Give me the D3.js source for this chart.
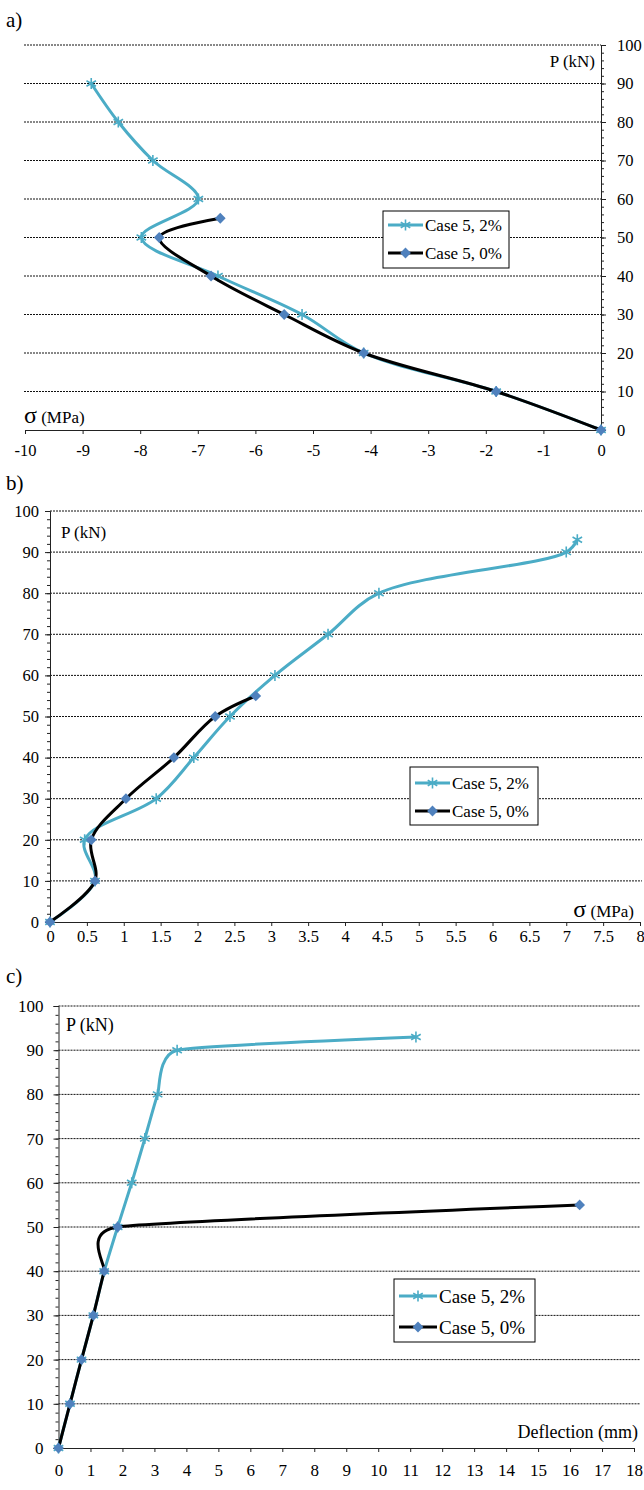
<!DOCTYPE html>
<html>
<head>
<meta charset="utf-8">
<script src="https://cdn.jsdelivr.net/npm/d3@7"></script>
<style>
  body { margin: 0; background: #fff; }
  svg text { font-family: "Liberation Serif", "Times New Roman", Times, "DejaVu Serif", serif; fill: #000; }
</style>
</head>
<body>
<div id="chart"></div>
<script>
// Series names (legend)
const seriesNames = ["Case 5, 2%", "Case 5, 0%"];

// a) stress vs load
const aLoad2 = [0, 10, 20, 30, 40, 50, 60, 70, 80, 90];
const aStress2 = [0, -1.82, -4.12, -5.19, -6.65, -7.98, -6.99, -7.78, -8.38, -8.85];
const aLoad0 = [0, 10, 20, 30, 40, 50, 55];
const aStress0 = [0, -1.82, -4.12, -5.5, -6.77, -7.67, -6.61];

// b) stress vs load
const bLoad2 = [0, 10, 20, 30, 40, 50, 60, 70, 80, 90, 93];
const bStress2 = [0, 0.61, 0.47, 1.44, 1.95, 2.44, 3.05, 3.77, 4.46, 7.0, 7.15];
const bLoad0 = [0, 10, 20, 30, 40, 50, 55];
const bStress0 = [0, 0.61, 0.56, 1.03, 1.68, 2.24, 2.79];

// c) deflection vs load
const cLoad2 = [0, 10, 20, 30, 40, 50, 60, 70, 80, 90, 93];
const cDefl2 = [0, 0.36, 0.72, 1.09, 1.43, 1.85, 2.29, 2.7, 3.1, 3.71, 11.18];
const cLoad0 = [0, 10, 20, 30, 40, 50, 55];
const cDefl0 = [0, 0.36, 0.72, 1.09, 1.43, 1.85, 16.3];

// tick labels
const loadTicks = [0, 10, 20, 30, 40, 50, 60, 70, 80, 90, 100];
const aXTicks = [-10, -9, -8, -7, -6, -5, -4, -3, -2, -1, 0];
const bXTicks = [0, 0.5, 1, 1.5, 2, 2.5, 3, 3.5, 4, 4.5, 5, 5.5, 6, 6.5, 7, 7.5, 8];
const cXTicks = [0, 1, 2, 3, 4, 5, 6, 7, 8, 9, 10, 11, 12, 13, 14, 15, 16, 17, 18];
const loadMinor = d3.range(0, 101, 2);

const cyan = "#4bacc6", blue = "#4f81bd";
const serif = '"Liberation Serif", "Times New Roman", Times, "DejaVu Serif", serif';

const svg = d3.select("#chart").append("svg")
    .attr("width", 644)
    .attr("height", 1490)
    .style("background", "#fff");

const zip = (xs, ys) => xs.map((v, i) => ({x: v, y: ys[i]}));

const asterisk = d3.symbol(d3.symbolAsterisk, 85);
const diamond = d3.symbol(d3.symbolSquare, 58);

function drawPanel(p) {
    const g = svg.append("g").attr("font-family", serif);
    const x = d3.scaleLinear().domain(p.xDomain).range(p.xRange);
    const y = d3.scaleLinear().domain([0, 100]).range(p.yRange);

    // panel letter
    g.append("text").attr("x", 6).attr("y", p.letterY)
        .style("font-size", "21px").text(p.letter);

    // dotted gridlines
    g.selectAll(".grid").data(loadTicks.filter(d => d > 0)).join("line")
        .attr("x1", p.gridX[0]).attr("x2", p.gridX[1])
        .attr("y1", d => y(d)).attr("y2", d => y(d))
        .attr("stroke", "#111").attr("stroke-width", 1)
        .attr("stroke-dasharray", "2,1");

    // x axis
    const xa = g.append("g")
        .attr("transform", `translate(0,${y(0)})`)
        .call(d3.axisBottom(x).tickValues(p.xTicks).tickSize(4).tickPadding(p.xPad)
            .tickFormat(d => String(d)));
    xa.attr("font-family", serif);
    xa.select(".domain").attr("stroke", "#222");
    xa.selectAll("line").attr("stroke", "#222");
    xa.selectAll("text").style("font-size", p.tickFont + "px");

    // y axis (major + minor)
    const yx = x(0);
    const mk = p.yRight ? d3.axisRight : d3.axisLeft;
    const ym = g.append("g").attr("transform", `translate(${yx},0)`)
        .call(mk(y).tickValues(loadMinor).tickSize(3).tickFormat(""));
    ym.select(".domain").remove();
    ym.selectAll("line").attr("stroke", "#222");
    const ya = g.append("g").attr("transform", `translate(${yx},0)`)
        .call(mk(y).tickValues(loadTicks).tickSize(5).tickPadding(p.yPad));
    ya.attr("font-family", serif);
    ya.select(".domain").attr("stroke", "#222");
    ya.selectAll("line").attr("stroke", "#222");
    ya.selectAll("text").style("font-size", p.tickFont + "px");

    // axis titles
    g.append("text").attr("x", p.pLabel[0]).attr("y", p.pLabel[1])
        .attr("text-anchor", p.pLabel[2])
        .style("font-size", p.titleFont + "px").text("P (kN)");
    const xt = g.append("text").attr("x", p.xLabel[0]).attr("y", p.xLabel[1])
        .attr("text-anchor", p.xLabel[2])
        .style("font-size", p.titleFont + "px");
    if (p.xTitle === "sigma") {
        xt.append("tspan").style("font-size", (p.titleFont + 7) + "px").text("σ");
        xt.append("tspan").text(" (MPa)");
    } else {
        xt.text(p.xTitle);
    }

    const line = d3.line()
        .x(d => x(d.x)).y(d => y(d.y))
        .curve(p.curve);

    // Case 5, 2%
    g.append("path").datum(p.s2)
        .attr("fill", "none").attr("stroke", cyan).attr("stroke-width", 3)
        .attr("d", line);
    g.selectAll(".m2").data(p.s2).join("path")
        .attr("transform", d => `translate(${x(d.x)},${y(d.y)})`)
        .attr("d", asterisk)
        .attr("fill", "none").attr("stroke", cyan).attr("stroke-width", 1.6);

    // Case 5, 0%
    g.append("path").datum(p.s0)
        .attr("fill", "none").attr("stroke", "#000").attr("stroke-width", 3)
        .attr("d", line);
    g.selectAll(".m0").data(p.s0).join("path")
        .attr("transform", d => `translate(${x(d.x)},${y(d.y)}) rotate(45)`)
        .attr("d", diamond)
        .attr("fill", blue);

    // legend
    const L = p.legend;
    const lg = g.append("g").attr("transform", `translate(${L.x},${L.y})`);
    lg.append("rect").attr("width", L.w).attr("height", L.h)
        .attr("fill", "#fff").attr("stroke", "#000").attr("stroke-width", 1);
    const rows = [
        {name: seriesNames[0], color: cyan, sym: "ast"},
        {name: seriesNames[1], color: "#000", sym: "dia"}
    ];
    rows.forEach((r, i) => {
        const ry = L.rowY[i];
        lg.append("line").attr("x1", 5).attr("x2", 5 + L.lineLen)
            .attr("y1", ry).attr("y2", ry)
            .attr("stroke", r.color).attr("stroke-width", 3);
        const cx = 5 + L.lineLen / 2;
        if (r.sym === "ast") {
            lg.append("path").attr("transform", `translate(${cx},${ry})`)
                .attr("d", asterisk).attr("fill", "none")
                .attr("stroke", cyan).attr("stroke-width", 1.6);
        } else {
            lg.append("path").attr("transform", `translate(${cx},${ry}) rotate(45)`)
                .attr("d", diamond).attr("fill", blue);
        }
        lg.append("text").attr("x", 7 + L.lineLen).attr("y", ry)
            .attr("dy", "0.35em")
            .style("font-size", L.font + "px").text(r.name);
    });
}

drawPanel({
    letter: "a)", letterY: 27,
    xDomain: [-10, 0], xRange: [25, 601], yRange: [430, 45],
    gridX: [24, 601], xTicks: aXTicks, xPad: 10, yPad: 11, yRight: true,
    tickFont: 16.5, titleFont: 17, curve: d3.curveCatmullRom.alpha(0.5),
    pLabel: [595, 67, "end"], xLabel: [24, 423, "start"], xTitle: "sigma",
    s2: zip(aStress2, aLoad2), s0: zip(aStress0, aLoad0),
    legend: {x: 383, y: 211, w: 126, h: 57, rowY: [14, 42], lineLen: 35, font: 17}
});

drawPanel({
    letter: "b)", letterY: 490,
    xDomain: [0, 8], xRange: [50, 640], yRange: [922, 511],
    gridX: [50, 642], xTicks: bXTicks, xPad: 4, yPad: 6, yRight: false,
    tickFont: 16.5, titleFont: 17, curve: d3.curveCatmullRom.alpha(0.5),
    pLabel: [61, 538, "start"], xLabel: [634, 917, "end"], xTitle: "sigma",
    s2: zip(bStress2, bLoad2), s0: zip(bStress0, bLoad0),
    legend: {x: 410, y: 767, w: 128, h: 58, rowY: [16, 44], lineLen: 35, font: 17}
});

drawPanel({
    letter: "c)", letterY: 983,
    xDomain: [0, 18], xRange: [58.5, 634], yRange: [1448, 1006],
    gridX: [58.5, 640], xTicks: cXTicks, xPad: 12, yPad: 10, yRight: false,
    tickFont: 17, titleFont: 18, curve: d3.curveCardinal.tension(0.55),
    pLabel: [66, 1031, "start"], xLabel: [638, 1438, "end"], xTitle: "Deflection (mm)",
    s2: zip(cDefl2, cLoad2), s0: zip(cDefl0, cLoad0),
    legend: {x: 394, y: 1279, w: 141, h: 63, rowY: [17, 48], lineLen: 38, font: 19}
});
</script>
</body>
</html>
